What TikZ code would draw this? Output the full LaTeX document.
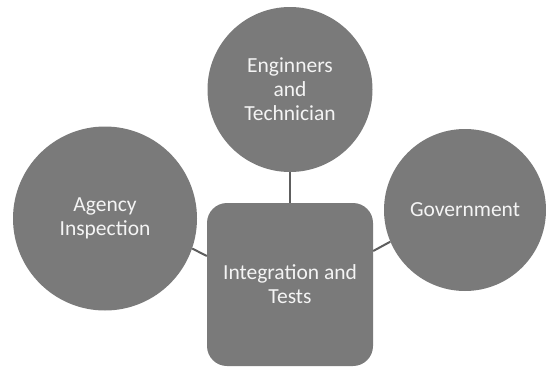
\documentclass[tikz,border=0pt]{standalone}
\usepackage{fontspec}
\setmainfont{Carlito}
\definecolor{shapefill}{HTML}{7A7A7A}
\definecolor{linkcol}{HTML}{5E5E5E}
\definecolor{txtcol}{HTML}{F4F4F4}
\begin{document}
\begin{tikzpicture}[x=1pt,y=-1pt,
  bubble/.style={circle,fill=shapefill,draw=none,text=txtcol,align=center,inner sep=0pt,
    font=\fontsize{21.5}{24}\selectfont},
  centerbox/.style={rectangle,rounded corners=20pt,fill=shapefill,draw=none,text=txtcol,align=center,
    inner sep=0pt,minimum width=166pt,minimum height=163pt,font=\fontsize{21.5}{24}\selectfont},
  link/.style={draw=linkcol,line width=2pt}]
\useasboundingbox (0,0) rectangle (546,367);
\node[bubble,minimum size=165pt] (eng) at (290,89.5) {Enginners\\and\\Technician};
\node[bubble,minimum size=184pt] (agency) at (105,218.5) {Agency\\Inspection};
\node[bubble,minimum size=162pt] (gov) at (465,210) {Government};
\node[centerbox] (integ) at (290,284.5) {Integration and\\Tests};
\draw[link] (eng.south) -- (integ.north);
\draw[link] (agency.-19) -- (integ.west |- 0,256);
\draw[link] (gov.-157) -- (integ.east |- 0,251);
\end{tikzpicture}
\end{document}
